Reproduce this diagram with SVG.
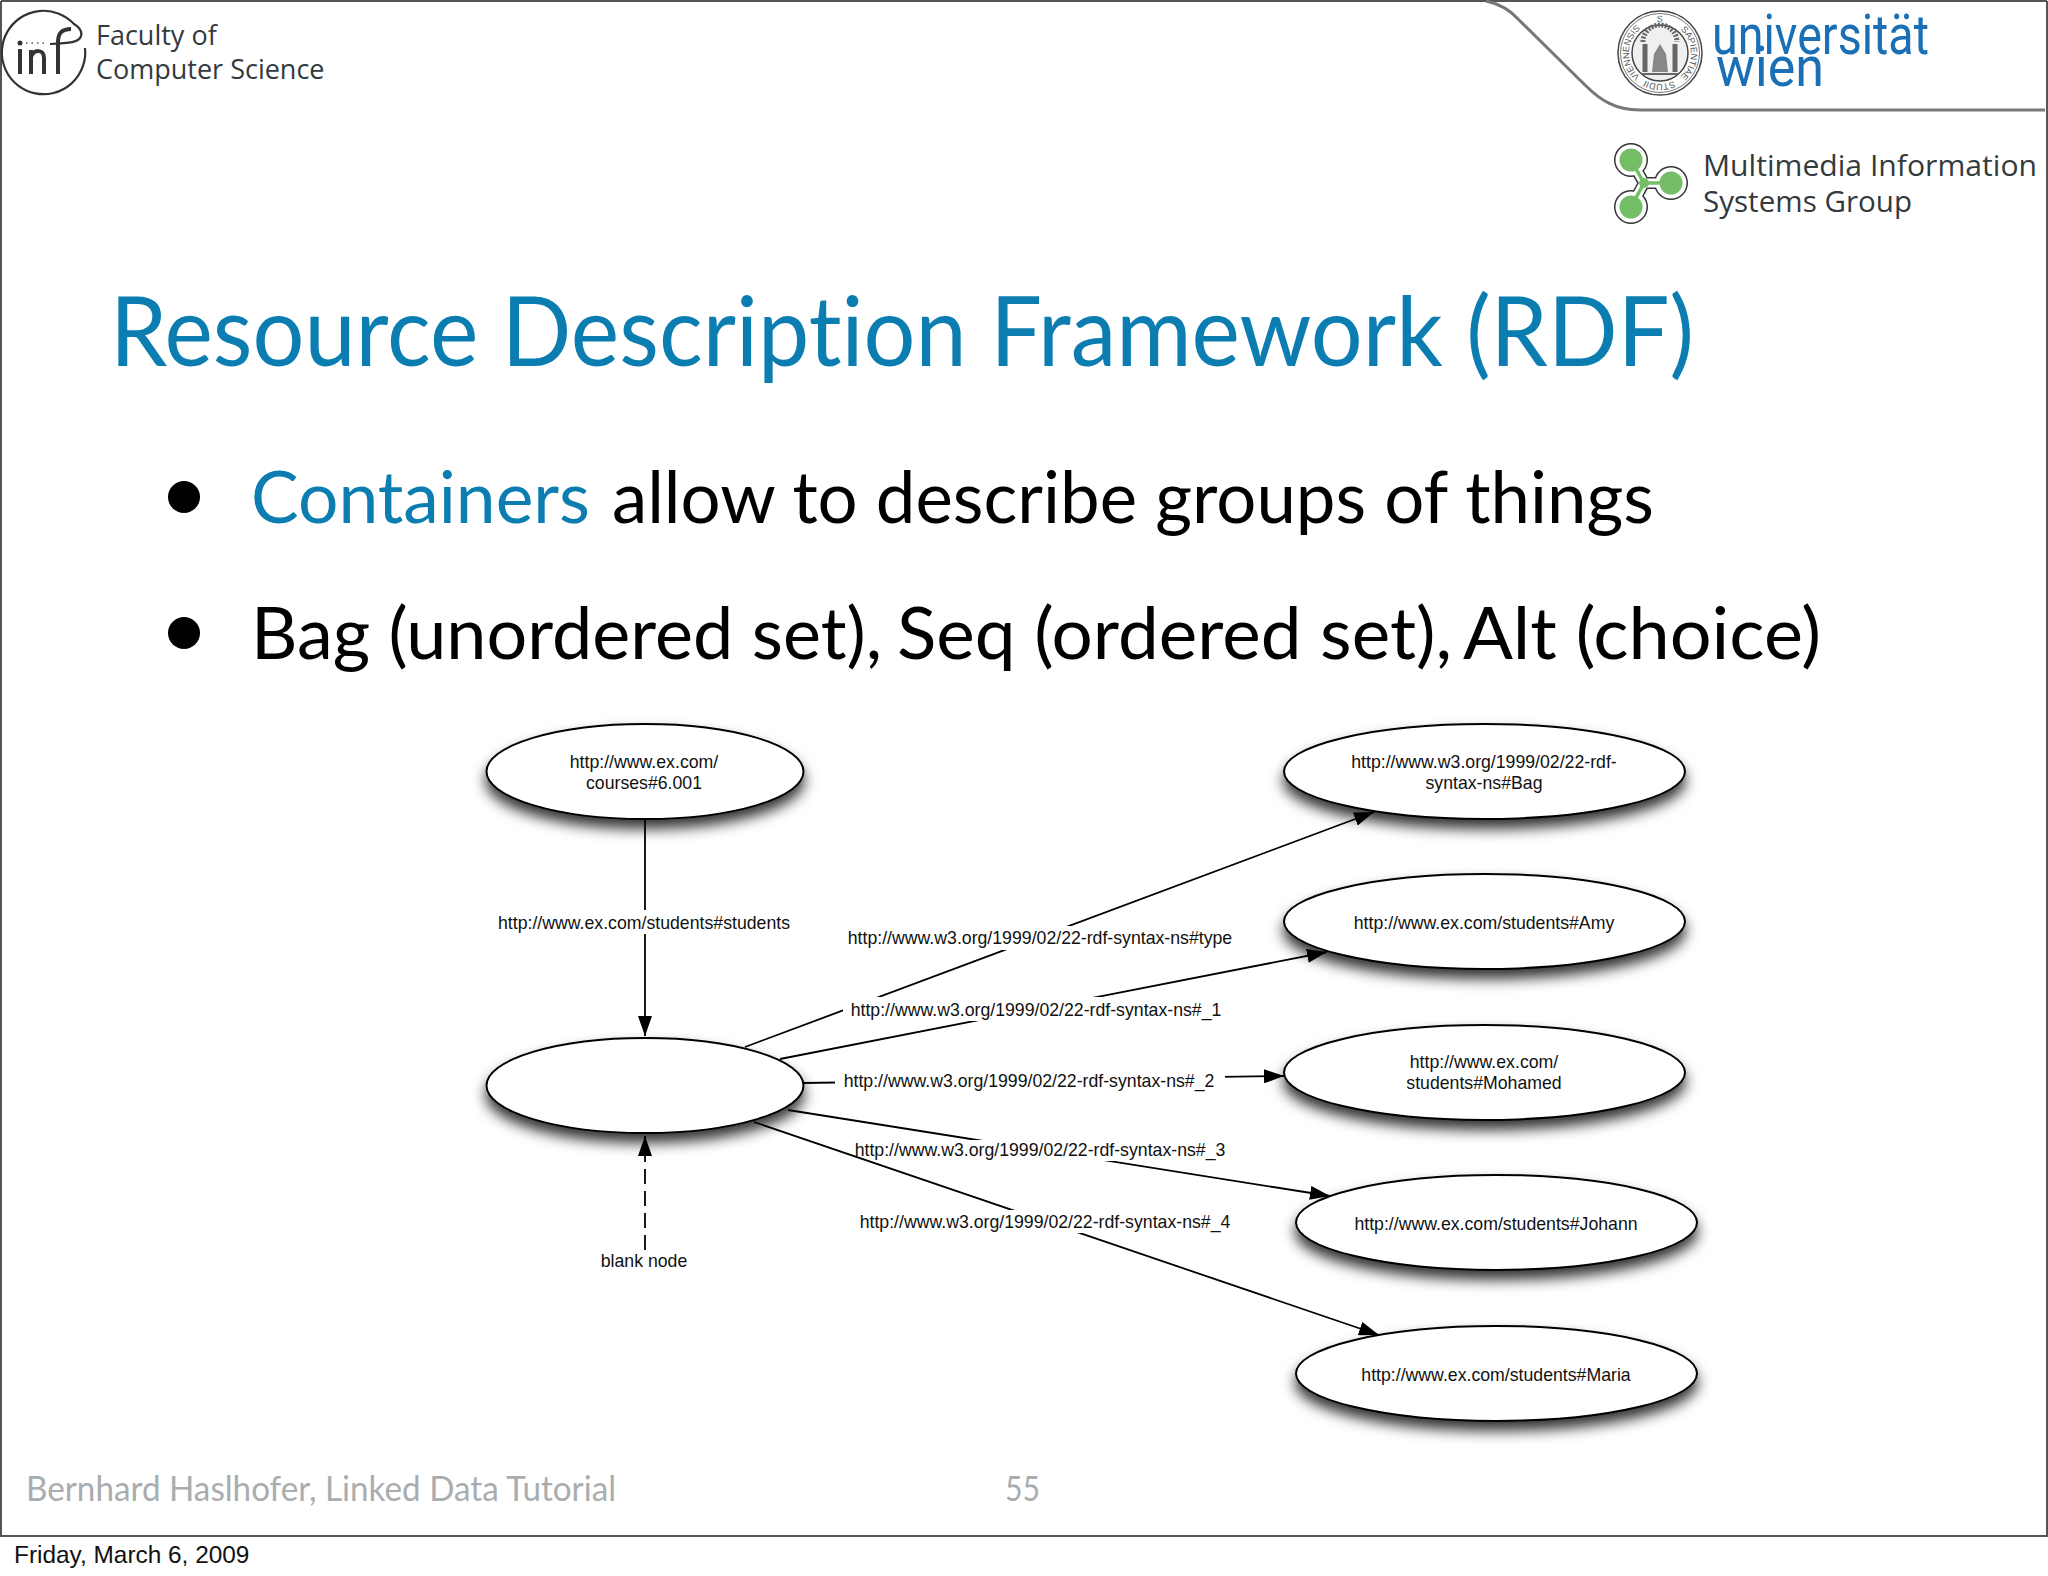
<svg xmlns="http://www.w3.org/2000/svg" width="2048" height="1576" viewBox="0 0 2048 1576">
<style>
text{font-variant-ligatures:none}
.hd{font-family:"Open Sans","Noto Sans",sans-serif;fill:#333a3e;font-size:27px}
.hm{font-family:"Open Sans","Noto Sans",sans-serif;fill:#333a3e;font-size:30px}
.gs{font-family:Lato,"Noto Sans",sans-serif}
.lb{font-family:"Liberation Sans",Arial,sans-serif;font-size:17.7px;fill:#111;text-anchor:middle}
.nd{fill:#fff;stroke:#000;stroke-width:2;filter:url(#sh)}
.cn{stroke:#000;stroke-width:1.8;fill:none}
.un{font-family:Roboto,"Liberation Sans",sans-serif;font-weight:400;font-size:56px;fill:#1a6fb5}
.se{font-family:"Liberation Sans",sans-serif;font-size:9px;fill:#555;text-anchor:middle}
</style>
<defs>
<filter id="sh" x="-15%" y="-30%" width="130%" height="180%"><feDropShadow dx="0" dy="9" stdDeviation="7" flood-color="#000" flood-opacity=".8"/></filter>
<marker id="ah" viewBox="0 0 20 14" refX="20" refY="7" markerWidth="20" markerHeight="14" markerUnits="userSpaceOnUse" orient="auto"><path d="M0 0L20 7L0 14z" fill="#000"/></marker>
<path id="sa" d="M1660 84A31 31 0 0 1 1660 22A31 31 0 0 1 1660 84A31 31 0 0 1 1660 22A31 31 0 0 1 1660 84"/>
</defs>
<rect width="2048" height="1576" fill="#fff"/>
<g id="frame" fill="none" stroke="#555" stroke-width="2">
<path d="M1 1V1536H2047V1M1 1H2047"/>
<path d="M1486 1C1500 4 1510 10 1518 19L1585 85C1600 100 1615 110 1640 110H2045" stroke="#777" stroke-width="3"/>
</g>
<g id="logo-inf" fill="none" stroke="#333">
<path d="M85 48A41.700 41.700 0 1 1 74 24C81 28 83 34 80 38C77 42 72 43 50 44" stroke-width="2.200"/>
<path d="M58 74V42C58 33 62 29 71 29" stroke-width="4"/>
<path d="M20 49V74M31 74V50M31 57C34 49 44 49 44 58V74" stroke-width="4"/>
<circle cx="20" cy="43" r="2.500" fill="#333" stroke="none"/>
<path d="M26 43H46" stroke="#555" stroke-dasharray="1.500 4" stroke-width="1.500"/>
</g>
<g id="header-left"><text class="hd" x="96" y="45">Faculty of</text><text class="hd" x="96" y="79">Computer Science</text></g>
<g id="logo-wien">
<circle cx="1660" cy="53" r="42" fill="#fff" stroke="#444" stroke-width="1.500"/>
<circle cx="1660" cy="53" r="39.500" fill="none" stroke="#777" stroke-width="1"/>
<circle cx="1660" cy="53" r="28" fill="#f0f0f0" stroke="#444" stroke-width="1.500"/>
<text class="se"><textPath href="#sa" startOffset="49">VIENNENSIS</textPath></text>
<text class="se"><textPath href="#sa" startOffset="97">S</textPath></text>
<text class="se"><textPath href="#sa" startOffset="146">SAPIENTIAE</textPath></text>
<text class="se"><textPath href="#sa" startOffset="195">STUDII</textPath></text>
<path d="M1645 72V44M1675 72V44" fill="none" stroke="#666" stroke-width="5"/>
<path d="M1643 42A17 17 0 0 1 1677 42" fill="none" stroke="#666" stroke-width="5" stroke-dasharray="2 1.500"/>
<path d="M1641 74H1679" stroke="#666" stroke-width="2"/>
<path d="M1652 72L1654 54L1660 44L1666 54L1668 72z" fill="#888"/>
<text class="un" x="1712" y="54" textLength="217" lengthAdjust="spacingAndGlyphs">universität</text>
<text class="un" x="1716" y="86" textLength="108" lengthAdjust="spacingAndGlyphs">wien</text>
</g>
<g id="logo-mis" fill="none">
<g stroke="#333"><path d="M1631 160L1644 183L1631 207M1644 183H1671" stroke-width="12"/></g>
<g fill="#333"><circle cx="1631" cy="160" r="17"/><circle cx="1671" cy="183" r="17"/><circle cx="1631" cy="207" r="17"/></g>
<g stroke="#fff"><path d="M1631 160L1644 183L1631 207M1644 183H1671" stroke-width="9"/></g>
<g fill="#fff"><circle cx="1631" cy="160" r="15.500"/><circle cx="1671" cy="183" r="15.500"/><circle cx="1631" cy="207" r="15.500"/></g>
<g fill="#73be66"><circle cx="1631" cy="160" r="11.500"/><circle cx="1671" cy="183" r="11.500"/><circle cx="1631" cy="207" r="11.500"/><circle cx="1644" cy="183" r="5"/></g>
<path d="M1631 160L1644 183L1631 207M1644 183H1671" stroke="#73be66" stroke-width="3.500"/>
</g>
<g id="header-right"><text class="hm" x="1703" y="176" textLength="334" lengthAdjust="spacingAndGlyphs">Multimedia Information</text><text class="hm" x="1703" y="212" textLength="209" lengthAdjust="spacingAndGlyphs">Systems Group</text></g>
<text class="gs" x="110" y="366" font-size="97" fill="#0b7db0" textLength="1584" lengthAdjust="spacingAndGlyphs">Resource Description Framework (RDF)</text>
<g id="bullets" class="gs" font-size="72" fill="#000">
<circle cx="184" cy="497" r="16"/><circle cx="184" cy="633" r="16"/>
<text y="523"><tspan x="251" fill="#0b7db0" textLength="339" lengthAdjust="spacingAndGlyphs">Containers</tspan> <tspan x="612" textLength="1042" lengthAdjust="spacingAndGlyphs">allow to describe groups of things</tspan></text>
<text y="659"><tspan x="251" textLength="631" lengthAdjust="spacingAndGlyphs">Bag (unordered set),</tspan> <tspan x="897" textLength="555" lengthAdjust="spacingAndGlyphs">Seq (ordered set),</tspan> <tspan x="1463" textLength="358" lengthAdjust="spacingAndGlyphs">Alt (choice)</tspan></text>
</g>
<g id="connectors">
<line class="cn" x1="645" y1="819" x2="645" y2="1036" marker-end="url(#ah)"/>
<rect x="490" y="910" width="310" height="24" fill="#fff"/><text class="lb" x="644" y="929">http://www.ex.com/students#students</text>
<line class="cn" x1="645" y1="1250" x2="645" y2="1136" stroke-dasharray="15 7" marker-end="url(#ah)"/>
<text class="lb" x="644" y="1267">blank node</text>
<line class="cn" x1="745" y1="1047" x2="1374" y2="812" marker-end="url(#ah)"/>
<rect x="840" y="926" width="400" height="24" fill="#fff"/><text class="lb" x="1040" y="944">http://www.w3.org/1999/02/22-rdf-syntax-ns#type</text>
<line class="cn" x1="780" y1="1059" x2="1327" y2="952" marker-end="url(#ah)"/>
<rect x="843" y="997" width="386" height="24" fill="#fff"/><text class="lb" x="1036" y="1016">http://www.w3.org/1999/02/22-rdf-syntax-ns#_1</text>
<line class="cn" x1="803" y1="1083" x2="1284" y2="1076" marker-end="url(#ah)"/>
<rect x="835" y="1068" width="390" height="24" fill="#fff"/><text class="lb" x="1029" y="1087">http://www.w3.org/1999/02/22-rdf-syntax-ns#_2</text>
<line class="cn" x1="788" y1="1110" x2="1330" y2="1196" marker-end="url(#ah)"/>
<rect x="848" y="1140" width="386" height="21" fill="#fff"/><text class="lb" x="1040" y="1156">http://www.w3.org/1999/02/22-rdf-syntax-ns#_3</text>
<line class="cn" x1="754" y1="1122" x2="1379" y2="1335" marker-end="url(#ah)"/>
<rect x="854" y="1210" width="386" height="23" fill="#fff"/><text class="lb" x="1045" y="1228">http://www.w3.org/1999/02/22-rdf-syntax-ns#_4</text>
</g>
<g id="n-course"><ellipse class="nd" cx="645" cy="771.500" rx="158.500" ry="47.500"/><text class="lb" x="644" y="768">http://www.ex.com/</text><text class="lb" x="644" y="789">courses#6.001</text></g>
<g id="n-blank"><ellipse class="nd" cx="645" cy="1085.500" rx="158.500" ry="47.500"/></g>
<g id="n-bag"><ellipse class="nd" cx="1484.500" cy="771.500" rx="200.500" ry="47.500"/><text class="lb" x="1484" y="768">http://www.w3.org/1999/02/22-rdf-</text><text class="lb" x="1484" y="789">syntax-ns#Bag</text></g>
<g id="n-amy"><ellipse class="nd" cx="1484.500" cy="921.500" rx="200.500" ry="47.500"/><text class="lb" x="1484" y="929">http://www.ex.com/students#Amy</text></g>
<g id="n-mohamed"><ellipse class="nd" cx="1484.500" cy="1072.500" rx="200.500" ry="47.500"/><text class="lb" x="1484" y="1068">http://www.ex.com/</text><text class="lb" x="1484" y="1089">students#Mohamed</text></g>
<g id="n-johann"><ellipse class="nd" cx="1496.500" cy="1222.500" rx="200.500" ry="47.500"/><text class="lb" x="1496" y="1230">http://www.ex.com/students#Johann</text></g>
<g id="n-maria"><ellipse class="nd" cx="1496.500" cy="1373.500" rx="200.500" ry="47.500"/><text class="lb" x="1496" y="1381">http://www.ex.com/students#Maria</text></g>
<g id="footer" class="gs" font-size="35" fill="#a9adaf">
<text x="26" y="1501" textLength="590" lengthAdjust="spacingAndGlyphs">Bernhard Haslhofer, Linked Data Tutorial</text>
<text x="1005" y="1501" textLength="35" lengthAdjust="spacingAndGlyphs">55</text>
</g>
<text x="14" y="1563" font-family="Liberation Sans,Arial,sans-serif" font-size="24.400" fill="#111">Friday, March 6, 2009</text>
</svg>
